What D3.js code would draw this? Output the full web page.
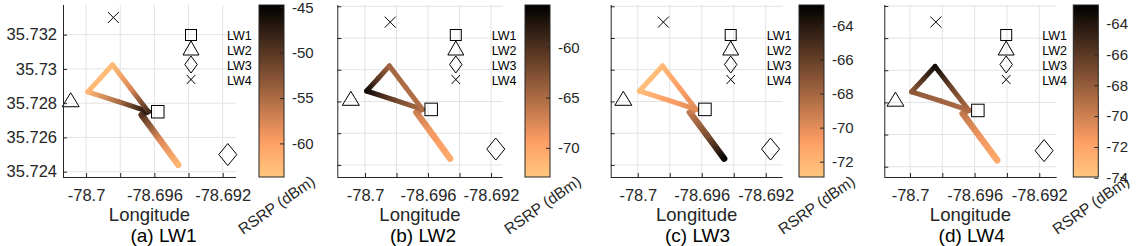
<!DOCTYPE html>
<html lang="en">
<head>
<meta charset="UTF-8">
<title>RSRP along drive route, LW1-LW4</title>
<script src="https://d3js.org/d3.v7.min.js"></script>
<style>
    body { margin: 0; background: #fff; }
    svg { display: block; font-family: "Liberation Sans", Arial, Helvetica, sans-serif; }
</style>
</head>
<body>
<svg id="chart" width="1136" height="246"></svg>
<script>
// drive route waypoints (spur bottom -> kink -> near LW1 -> left corner -> top corner -> back)
const routeLon = [-78.69460, -78.69567, -78.69674, -78.69635, -78.69811, -78.69990, -78.69917, -78.69845, -78.69740, -78.69635];
const routeLat = [35.72440, 35.72586, 35.72731, 35.72750, 35.72809, 35.72866, 35.72945, 35.73024, 35.72887, 35.72750];

// RSRP (dBm) measured at each waypoint, one array per tower
const rsrpLW1 = [-62.0, -58.0, -50.0, -46.0, -55.0, -62.0, -62.5, -62.5, -58.0, -49.0];
const rsrpLW2 = [-70.3, -69.1, -66.9, -65.2, -61.8, -56.7, -60.9, -64.4, -65.2, -65.2];
const rsrpLW3 = [-63.1, -66.8, -68.9, -69.9, -70.9, -72.4, -72.4, -72.1, -70.9, -69.9];
const rsrpLW4 = [-72.3, -71.2, -69.5, -68.9, -68.4, -67.8, -65.6, -63.4, -66.7, -68.9];

// tower positions
const towerNames = ["LW1", "LW2", "LW3", "LW4"];
const towerLon = [-78.6958, -78.7009, -78.6917, -78.6984];
const towerLat = [35.7275, 35.7282, 35.7250, 35.7330];

const panelTitles = ["(a) LW1", "(b) LW2", "(c) LW3", "(d) LW4"];

// axis ticks
const lonTicks = [-78.7, -78.698, -78.696, -78.694, -78.692];
const lonTickLabels = ["-78.7", "", "-78.696", "", "-78.692"];
const latTicks = [35.724, 35.726, 35.728, 35.73, 35.732, 35.734];
const latTickLabels = ["35.724", "35.726", "35.728", "35.73", "35.732", ""];

// colorbar limits and ticks
const cbLimits = [[-63.7, -44.75], [-72.9, -55.8], [-72.9, -62.8], [-73.95, -62.8]];
const cbTicks = [[-60, -55, -50, -45], [-70, -65, -60], [-72, -70, -68, -66, -64], [-74, -72, -70, -68, -66, -64]];

const rsrpAll = [rsrpLW1, rsrpLW2, rsrpLW3, rsrpLW4];

// layout (pixels) and view windows of each panel
const panels = [
    { left: 63, right: 236, lon: [-78.70135, -78.69122], lat: [35.72369, 35.73373], cbX: 259, legX: 191, titleX: 163.5, yLabels: true },
    { left: 337.3, right: 502.7, lon: [-78.70176, -78.69126], lat: [35.72324, 35.73408], cbX: 525, legX: 455.8, titleX: 423, yLabels: false },
    { left: 610.7, right: 782.7, lon: [-78.70169, -78.69094], lat: [35.72324, 35.73408], cbX: 799, legX: 730.7, titleX: 697.5, yLabels: false },
    { left: 884.3, right: 1056.7, lon: [-78.70159, -78.69092], lat: [35.72336, 35.73406], cbX: 1073.3, legX: 1006.2, titleX: 971.7, yLabels: false }
];
const plotTop = 5, plotBottom = 177, cbW = 25;
const axisColor = "#262626", gridColor = "#e3e3e3";

const svg = d3.select("#chart");
const defs = svg.append("defs");

// flipped copper colormap: s = 0 -> black, s = 1 -> light copper
function copper(s) {
    s = Math.max(0, Math.min(1, s));
    return d3.rgb(255 * Math.min(1, 1.25 * s), 255 * 0.7812 * s, 255 * 0.4975 * s).toString();
}
function rsrpColor(v, lim) {
    return copper((lim[1] - v) / (lim[1] - lim[0]));
}

// marker shapes
function drawMarker(g, kind, cx, cy, w, h) {
    const m = g.append("g").attr("fill", "none").attr("stroke", "#000").attr("stroke-width", 1);
    if (kind === 0) {
        m.append("rect").attr("x", cx - w / 2).attr("y", cy - h / 2).attr("width", w).attr("height", h);
    } else if (kind === 1) {
        m.append("path").attr("d", `M${cx},${cy - h / 2}L${cx + w / 2},${cy + h / 2}L${cx - w / 2},${cy + h / 2}Z`);
    } else if (kind === 2) {
        m.append("path").attr("d", `M${cx},${cy - h / 2}L${cx + w / 2},${cy}L${cx},${cy + h / 2}L${cx - w / 2},${cy}Z`);
    } else {
        m.append("path").attr("d", `M${cx - w / 2},${cy - h / 2}L${cx + w / 2},${cy + h / 2}M${cx - w / 2},${cy + h / 2}L${cx + w / 2},${cy - h / 2}`);
    }
}
const towerSize = [[12.5, 12.5], [17, 14], [18, 22], [11, 11]];
const legendSize = [[11, 11], [16, 14], [12.5, 17], [8.5, 9]];
const legendY = [35, 48, 64.5, 79.5];
const legendTextY = [35.5, 51, 66, 81];

panels.forEach((p, pi) => {
    const x = d3.scaleLinear().domain(p.lon).range([p.left, p.right]);
    const y = d3.scaleLinear().domain(p.lat).range([plotBottom, plotTop]);
    const lim = cbLimits[pi];
    const vals = rsrpAll[pi];
    const g = svg.append("g");

    const lonIn = lonTicks.filter(d => d >= p.lon[0] && d <= p.lon[1]);
    const latIn = latTicks.filter(d => d >= p.lat[0] && d <= p.lat[1]);

    // grid
    g.append("g").selectAll("line").data(lonIn).join("line")
        .attr("x1", d => x(d)).attr("x2", d => x(d)).attr("y1", plotTop).attr("y2", plotBottom)
        .attr("stroke", gridColor).attr("stroke-width", 1);
    g.append("g").selectAll("line").data(latIn).join("line")
        .attr("x1", p.left).attr("x2", p.right).attr("y1", d => y(d)).attr("y2", d => y(d))
        .attr("stroke", gridColor).attr("stroke-width", 1);

    // route colored by RSRP
    const route = g.append("g").attr("fill", "none").attr("stroke-linecap", "round");
    for (let i = 0; i < routeLon.length - 1; i++) {
        const x1 = x(routeLon[i]), y1 = y(routeLat[i]);
        const x2 = x(routeLon[i + 1]), y2 = y(routeLat[i + 1]);
        const id = `seg${pi}_${i}`;
        const grad = defs.append("linearGradient").attr("id", id)
            .attr("gradientUnits", "userSpaceOnUse")
            .attr("x1", x1).attr("y1", y1).attr("x2", x2).attr("y2", y2);
        grad.append("stop").attr("offset", 0).attr("stop-color", rsrpColor(vals[i], lim));
        grad.append("stop").attr("offset", 1).attr("stop-color", rsrpColor(vals[i + 1], lim));
        route.append("line")
            .attr("x1", x1).attr("y1", y1).attr("x2", x2).attr("y2", y2)
            .attr("stroke", `url(#${id})`)
            .attr("stroke-width", i < 2 ? 6.5 : 5);
    }

    // towers
    towerNames.forEach((n, k) => {
        drawMarker(g, k, x(towerLon[k]), y(towerLat[k]), towerSize[k][0], towerSize[k][1]);
    });

    // legend
    towerNames.forEach((n, k) => {
        drawMarker(g, k, p.legX, legendY[k], legendSize[k][0], legendSize[k][1]);
        g.append("text").attr("x", p.legX + 36).attr("y", legendTextY[k]).attr("dy", "0.35em")
            .attr("font-size", 12.5).attr("fill", "#000").text(n);
    });

    // axes
    const xAxis = d3.axisBottom(x).tickValues(lonIn)
        .tickFormat(d => lonTickLabels[lonTicks.indexOf(d)])
        .tickSizeInner(-4).tickSizeOuter(0).tickPadding(12);
    const xg = g.append("g").attr("transform", `translate(0,${plotBottom})`).call(xAxis);
    xg.select(".domain").attr("d", `M${p.left},0.5H${p.right}`);

    const yAxis = d3.axisLeft(y).tickValues(latIn)
        .tickFormat(d => p.yLabels ? latTickLabels[latTicks.indexOf(d)] : "")
        .tickSizeInner(-4).tickSizeOuter(0).tickPadding(6);
    const yg = g.append("g").attr("transform", `translate(${p.left},0)`).call(yAxis);
    yg.select(".domain").attr("d", `M0.5,${plotTop}V${plotBottom}`);

    [xg, yg].forEach(a => {
        a.select(".domain").attr("stroke", axisColor).attr("stroke-width", 1);
        a.selectAll(".tick line").attr("stroke", axisColor);
        a.selectAll(".tick text").attr("fill", "#262626").attr("font-size", 16.5)
            .attr("font-family", "\"Liberation Sans\", Arial, sans-serif");
    });

    g.append("text").attr("x", (p.left + p.right) / 2).attr("y", 221)
        .attr("text-anchor", "middle").attr("font-size", 18.5).attr("fill", "#262626").text("Longitude");
    g.append("text").attr("x", p.titleX).attr("y", 242)
        .attr("text-anchor", "middle").attr("font-size", 19).attr("fill", "#000").text(panelTitles[pi]);

    // colorbar
    const gid = `cb${pi}`;
    const cg = defs.append("linearGradient").attr("id", gid).attr("x1", 0).attr("y1", 0).attr("x2", 0).attr("y2", 1);
    [0, 0.8, 1].forEach(o => cg.append("stop").attr("offset", o).attr("stop-color", copper(o)));
    g.append("rect").attr("x", p.cbX).attr("y", plotTop).attr("width", cbW).attr("height", plotBottom - plotTop)
        .attr("fill", `url(#${gid})`).attr("stroke", axisColor).attr("stroke-width", 1);
    const cy = d3.scaleLinear().domain(lim).range([plotBottom, plotTop]);
    const cAxis = d3.axisRight(cy).tickValues(cbTicks[pi]).tickFormat(d3.format("d"))
        .tickSizeInner(-4).tickSizeOuter(0).tickPadding(8);
    const ca = g.append("g").attr("transform", `translate(${p.cbX + cbW},0)`).call(cAxis);
    ca.select(".domain").remove();
    ca.selectAll(".tick line").attr("stroke", axisColor);
    ca.selectAll(".tick text").attr("fill", "#262626").attr("font-size", 15)
        .attr("font-family", "\"Liberation Sans\", Arial, sans-serif")
        .text(d => String(d).replace("\u2212", "-"));

    g.append("text").attr("transform", `translate(${p.cbX - 16},235) rotate(-35)`)
        .attr("font-size", 15.5).attr("fill", "#262626").text("RSRP (dBm)");
});
</script>
</body>
</html>
